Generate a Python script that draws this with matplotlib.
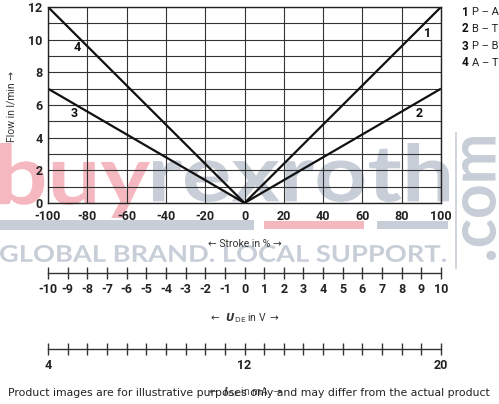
import numpy as np
import matplotlib
matplotlib.use("Agg")
import matplotlib.pyplot as plt
from matplotlib.ticker import MultipleLocator
from matplotlib.textpath import TextPath
from matplotlib.font_manager import FontProperties
from matplotlib.patches import PathPatch, Rectangle
from matplotlib.transforms import Affine2D

plt.rcParams['axes.unicode_minus'] = False

# data
stroke_neg = [-100, 0]
stroke_pos = [0, 100]
flow_1 = [0, 12]   # P - A
flow_2 = [0, 7]    # B - T
flow_3 = [7, 0]    # P - B
flow_4 = [12, 0]   # A - T
legend_nums = ["1", "2", "3", "4"]
legend_txt = ["P – A", "B – T", "P – B", "A – T"]
stroke_ticks = list(range(-100, 101, 20))
flow_ticks = list(range(0, 13, 2))
volt_ticks = list(range(-10, 11))
ma_ticks = [4, 12, 20]

W, H = 499, 404
fig = plt.figure(figsize=(W / 100, H / 100), dpi=100)

narrow = ['Roboto', 'DejaVu Sans']


def fx(x):
    return x / W


def fy(y):
    return 1 - y / H


# watermark layer (pixel coords)
wm = fig.add_axes([0, 0, 1, 1], zorder=0)
wm.set_xlim(0, W)
wm.set_ylim(H, 0)
wm.axis('off')
pink = '#f5b8c0'
grey = '#c8ced8'
fp = FontProperties(family=['Lato', 'DejaVu Sans'], weight='bold')


def put_word(s, box, color, rot=0):
    path = TextPath((0, 0), s, size=100, prop=fp)
    if rot:
        path = Affine2D().rotate_deg(rot).transform_path(path)
    ext = path.get_extents()
    x0, y0, x1, y1 = box
    sx = (x1 - x0) / ext.width
    sy = (y1 - y0) / ext.height
    tr = Affine2D().translate(-ext.x0, -ext.y0).scale(sx, -sy).translate(x0, y1)
    wm.add_patch(PathPatch(tr.transform_path(path), fc=color, ec='none'))


put_word("buy", (0, 143, 150, 218), pink)
put_word("rexroth", (153, 143, 449, 202), grey)
put_word("GLOBAL BRAND. LOCAL SUPPORT.", (0, 245, 446, 262), grey)
put_word(".com", (462, 137, 496, 260), grey, rot=90)
wm.add_patch(Rectangle((0, 220), 254, 10, fc=grey, ec='none'))
wm.add_patch(Rectangle((264, 221), 100, 8, fc=pink, ec='none'))
wm.add_patch(Rectangle((377, 221), 71, 8, fc=grey, ec='none'))
wm.plot([456, 456], [133, 268], color=grey, lw=1.2)

# main chart
ax = fig.add_axes([fx(48), fy(203), 393 / W, 196 / H], zorder=1)
ax.set_facecolor('none')
ax.plot(stroke_pos, flow_1, color='#111111', lw=1.6, solid_capstyle='butt')
ax.plot(stroke_pos, flow_2, color='#111111', lw=1.6, solid_capstyle='butt')
ax.plot(stroke_neg, flow_3, color='#111111', lw=1.6, solid_capstyle='butt')
ax.plot(stroke_neg, flow_4, color='#111111', lw=1.6, solid_capstyle='butt')
ax.set_xlim(-100, 100)
ax.set_ylim(0, 12)
ax.set_xticks(stroke_ticks)
ax.set_yticks(flow_ticks)
ax.yaxis.set_minor_locator(MultipleLocator(1))
ax.grid(True, which='both', color='#333333', lw=0.8)
ax.tick_params(which='both', length=0)
ax.tick_params(axis='x', pad=5)
ax.tick_params(axis='y', pad=4)
for lab in ax.get_xticklabels() + ax.get_yticklabels():
    lab.set_fontfamily(narrow)
    lab.set_fontweight('bold')
    lab.set_fontsize(9)
    lab.set_color('#222222')
for s in ax.spines.values():
    s.set_color('#222222')
    s.set_linewidth(1.0)

lbl = dict(fontsize=9, fontweight='bold', family=narrow, color='#111111',
           ha='center', va='center')
ax.text(93.4, 10.4, "1", **lbl)
ax.text(88.8, 5.5, "2", **lbl)
ax.text(-86.8, 5.5, "3", **lbl)
ax.text(-85.2, 9.5, "4", **lbl)

# legend
for i, (n, t) in enumerate(zip(legend_nums, legend_txt)):
    yy = 12 + i * 17
    fig.text(fx(462), fy(yy), n, fontsize=8.5, fontweight='bold', family=narrow,
             color='#111111', va='center', ha='left')
    fig.text(fx(472), fy(yy), t, fontsize=8, family=narrow,
             color='#222222', va='center', ha='left')

fig.text(fx(12), fy(106), "Flow in l/min →", rotation=90, fontsize=7.5,
         family=narrow, color='#333333', ha='center', va='center')
fig.text(fx(245), fy(244), "← Stroke in % →", fontsize=7.5, family=narrow,
         color='#333333', ha='center', va='center')


def scale_axis(ypix):
    a = fig.add_axes([fx(48), fy(ypix), 393 / W, 0.0001], zorder=1)
    a.set_facecolor('none')
    for k in ['top', 'left', 'right']:
        a.spines[k].set_visible(False)
    a.spines['bottom'].set_color('#333333')
    a.spines['bottom'].set_linewidth(1.0)
    a.set_yticks([])
    a.tick_params(axis='x', which='both', direction='inout', length=8,
                  width=1.0, color='#333333', pad=3)
    return a


av = scale_axis(273)
av.set_xlim(-10, 10)
av.set_xticks(volt_ticks)
for lab in av.get_xticklabels():
    lab.set_fontfamily(narrow)
    lab.set_fontweight('bold')
    lab.set_fontsize(9)
    lab.set_color('#222222')
fig.text(fx(244), fy(318), r"$\leftarrow$  $\mathbfit{U}_{\mathrm{DE}}$ in V $\rightarrow$",
         fontsize=7.5, family=narrow, color='#333333', ha='center', va='center')

am = scale_axis(349)
am.set_xlim(4, 20)
am.set_xticks(ma_ticks)
am.xaxis.set_minor_locator(MultipleLocator(0.8))
for lab in am.get_xticklabels():
    lab.set_fontfamily(narrow)
    lab.set_fontweight('bold')
    lab.set_fontsize(9)
    lab.set_color('#222222')
fig.text(fx(244), fy(392), r"$\leftarrow$  $\mathbfit{I}_{\mathrm{DE}}$ in mA $\rightarrow$",
         fontsize=7.5, family=narrow, color='#555555', ha='center', va='center')

fig.text(fx(249), fy(393),
         "Product images are for illustrative purposes only and may differ from the actual product",
         fontsize=7.8, family='DejaVu Sans', color='#222222', ha='center', va='center')

fig.savefig("out.png", dpi=100)
